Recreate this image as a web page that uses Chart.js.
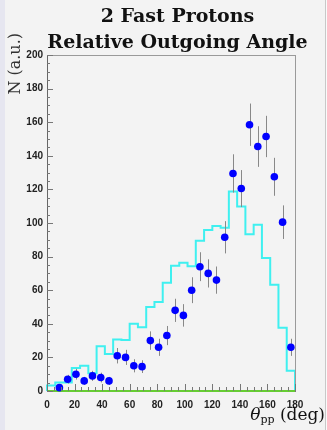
<!DOCTYPE html>
<html>
<head>
<meta charset="utf-8">
<script src="https://cdn.jsdelivr.net/npm/chart.js@4.4.0/dist/chart.umd.min.js"></script>
<style>
  body { margin: 0; background: #f3f3f3; }
  canvas { display: block; }
</style>
</head>
<body>
<canvas id="angleChart" width="327" height="430"></canvas>
<script>
// simulation histogram (6 deg bins), low edges + contents
const simEdges = [0, 6, 12, 18, 24, 30, 36, 42, 48, 54, 60, 66, 72, 78, 84, 90, 96, 102, 108, 114, 120, 126, 132, 138, 144, 150, 156, 162, 168, 174, 180];
const simCounts = [3.2, 5, 5, 13.7, 15, 10.5, 26.6, 22, 30.6, 30.4, 40, 38, 50, 53, 64.5, 74.6, 76.4, 74.2, 89.5, 95.8, 98.2, 97.2, 118.7, 109.8, 93.3, 99, 79.2, 63.3, 37.7, 12];

// measured points
const dataAngles = [9, 15, 21, 27, 33, 39, 45, 51, 57, 63, 69, 75, 81, 87, 93, 99, 105, 111, 117, 123, 129, 135, 141, 147, 153, 159, 165, 171, 177];
const dataCounts = [2, 7, 10, 6, 9, 8, 6, 21, 20, 15, 14.5, 30, 26, 33, 48, 45, 60, 74, 70, 66, 91.5, 129.5, 120.5, 158.5, 145.5, 151.5, 127.5, 100.5, 26];
const dataErrors = [1.4, 2.6, 3.2, 2.4, 3, 2.9, 2.4, 4.6, 4.5, 3.9, 3.8, 5.5, 5.1, 5.7, 6.9, 6.7, 7.7, 8.6, 8.4, 8.1, 9.6, 11.4, 11, 12.6, 12.1, 12.3, 11.3, 10, 5.1];

// background histogram (empty)
const bgEdges = [0, 180];
const bgCounts = [0, 0];

const titleLines = ["2 Fast Protons", "Relative Outgoing Angle"];
const yTitle = "N (a.u.)";

// build step line for the histogram
let simLine = [{ x: simEdges[0], y: 0 }];
for (let i = 0; i < simCounts.length; i++) {
  simLine.push({ x: simEdges[i], y: simCounts[i] });
}
simLine.push({ x: simEdges[simEdges.length - 1], y: simCounts[simCounts.length - 1] });
simLine.push({ x: simEdges[simEdges.length - 1], y: 0 });

const points = dataAngles.map((a, i) => ({ x: a, y: dataCounts[i] }));
const bgLine = bgEdges.map((e, i) => ({ x: e, y: bgCounts[i] }));

const pageBackground = {
  id: "pageBackground",
  beforeDraw(chart) {
    const ctx = chart.ctx;
    ctx.save();
    ctx.fillStyle = "#f3f3f3";
    ctx.fillRect(0, 0, chart.width, chart.height);
    ctx.fillStyle = "#e6e6f0";
    ctx.fillRect(0, 0, 5, chart.height);
    ctx.fillStyle = "#fafafa";
    ctx.fillRect(325, 0, 2, chart.height);
    ctx.fillStyle = "#c8c8c8";
    ctx.fillRect(325, 0, 1, chart.height);
    ctx.restore();
  }
};

const errorBars = {
  id: "errorBars",
  beforeDatasetDraw(chart, args) {
    if (args.index !== 0) return;
    const ctx = chart.ctx;
    const xs = chart.scales.x, ys = chart.scales.y;
    ctx.save();
    ctx.strokeStyle = "#888";
    ctx.lineWidth = 1;
    dataAngles.forEach((a, i) => {
      const px = Math.round(xs.getPixelForValue(a)) + 0.5;
      ctx.beginPath();
      ctx.moveTo(px, ys.getPixelForValue(dataCounts[i] + dataErrors[i]));
      ctx.lineTo(px, ys.getPixelForValue(dataCounts[i] - dataErrors[i]));
      ctx.stroke();
    });
    ctx.restore();
  }
};

const frameAndTicks = {
  id: "frameAndTicks",
  afterDraw(chart) {
    const ctx = chart.ctx;
    const a = chart.chartArea;
    const xs = chart.scales.x, ys = chart.scales.y;
    ctx.save();
    // frame top and right
    ctx.strokeStyle = "#9a9a9a";
    ctx.lineWidth = 1;
    ctx.beginPath();
    ctx.moveTo(a.left, Math.round(a.top) + 0.5);
    ctx.lineTo(a.right, Math.round(a.top) + 0.5);
    ctx.moveTo(Math.round(a.right) + 0.5, a.top);
    ctx.lineTo(Math.round(a.right) + 0.5, a.bottom);
    ctx.stroke();

    ctx.strokeStyle = "#777";
    ctx.beginPath();
    // y ticks, inside the frame
    for (let v = 0; v <= 200; v += 5) {
      const py = Math.round(ys.getPixelForValue(v)) + 0.5;
      const len = v % 20 === 0 ? 6 : 3;
      ctx.moveTo(a.left, py);
      ctx.lineTo(a.left + len, py);
    }
    // x ticks, pointing up
    for (let v = 0; v <= 180; v += 5) {
      const px = Math.round(xs.getPixelForValue(v)) + 0.5;
      const len = v % 20 === 0 ? 7 : 4;
      ctx.moveTo(px, a.bottom);
      ctx.lineTo(px, a.bottom - len);
    }
    ctx.stroke();

    // titles
    ctx.fillStyle = "#111";
    ctx.textAlign = "center";
    ctx.textBaseline = "alphabetic";
    ctx.font = "bold 19px 'DejaVu Serif'";
    ctx.fillText(titleLines[0], 177.5, 22);
    ctx.fillText(titleLines[1], 177.5, 48);

    // y title, top aligned
    ctx.save();
    ctx.translate(20, 33);
    ctx.rotate(-Math.PI / 2);
    ctx.textAlign = "right";
    ctx.font = "16px 'DejaVu Serif'";
    ctx.fillStyle = "#333";
    ctx.fillText(yTitle, 0, 0);
    ctx.restore();

    // x title: theta_pp (deg), right aligned
    ctx.textAlign = "left";
    const big = "17px 'DejaVu Serif'";
    const theta = "italic 17px 'DejaVu Serif'";
    const sub = "11px 'DejaVu Serif'";
    ctx.font = big;
    const wDeg = ctx.measureText(" (deg)").width;
    ctx.font = sub;
    const wSub = ctx.measureText("pp").width;
    ctx.font = theta;
    const wTh = ctx.measureText("θ").width;
    let x0 = 325 - wDeg - wSub - wTh;
    ctx.fillText("θ", x0, 420);
    ctx.font = sub;
    ctx.fillText("pp", x0 + wTh, 423);
    ctx.font = big;
    ctx.fillText(" (deg)", x0 + wTh + wSub, 420);
    ctx.restore();
  }
};

const ctx = document.getElementById("angleChart").getContext("2d");

const angleChart = new Chart(ctx, {
  type: "line",
  data: {
    datasets: [
      {
        label: "data",
        data: points,
        showLine: false,
        pointRadius: 3.8,
        pointBackgroundColor: "#0000ff",
        pointBorderWidth: 0,
        clip: false
      },
      {
        label: "background",
        data: bgLine,
        borderColor: "#66cc33",
        borderWidth: 2,
        pointRadius: 0,
        clip: false
      },
      {
        label: "simulation",
        data: simLine,
        stepped: true,
        borderColor: "#3ff0f0",
        borderWidth: 2,
        pointRadius: 0,
        fill: false,
        clip: false
      }
    ]
  },
  options: {
    responsive: false,
    animation: false,
    events: [],
    layout: { padding: { top: 55, right: 32, left: 0, bottom: 0 } },
    plugins: {
      legend: { display: false },
      tooltip: { enabled: false }
    },
    scales: {
      x: {
        type: "linear",
        min: 0,
        max: 180,
        afterFit(s) { s.height = 39; },
        grid: { display: false, drawTicks: false },
        border: { display: true, color: "#777", width: 1 },
        ticks: {
          stepSize: 20,
          padding: 8,
          color: "#222",
          font: { family: "'Liberation Sans'", size: 10, weight: "bold" }
        }
      },
      y: {
        type: "linear",
        min: 0,
        max: 200,
        afterFit(s) { s.width = 47; },
        grid: { display: false, drawTicks: false },
        border: { display: true, color: "#666", width: 1 },
        ticks: {
          stepSize: 20,
          padding: 4,
          color: "#222",
          font: { family: "'Liberation Sans'", size: 10, weight: "bold" }
        }
      }
    }
  },
  plugins: [pageBackground, errorBars, frameAndTicks]
});
</script>
</body>
</html>
